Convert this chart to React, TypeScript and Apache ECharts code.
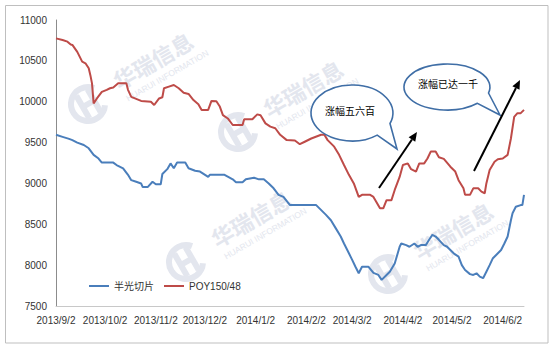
import React, { useEffect, useRef } from "react";
import * as echarts from "echarts";

// ---------------- data ----------------
const seriesNames = ["半光切片", "POY150/48"];

// x ticks: label text and day offset from 2013/9/2
const tickLabels = [
  "2013/9/2", "2013/10/2", "2013/11/2", "2013/12/2", "2014/1/2",
  "2014/2/2", "2014/3/2", "2014/4/2", "2014/5/2", "2014/6/2",
];
const tickDays = [0, 30, 61, 91, 122, 153, 181, 212, 242, 273];
const lastDay = 286;

// POY150/48 (red): day offsets and prices
const poyDays = [
  0, 4, 7, 9, 10, 13, 15, 16, 18, 20, 21, 22, 23, 25, 28, 31, 33, 35, 38, 43,
  44, 46, 49, 52, 58, 60, 63, 65, 66, 69, 72, 75, 78, 81, 84, 87, 89, 93, 95, 98,
  100, 102, 105, 108, 114, 115, 120, 123, 125, 128, 131, 134, 137, 141, 146, 149, 152, 156, 162, 164,
  166, 170, 173, 176, 179, 182, 185, 187, 192, 194, 198, 200, 202, 205, 207, 210, 212, 215, 217, 220,
  222, 225, 227, 229, 232, 234, 237, 241, 244, 246, 249, 250, 253, 255, 258, 260, 262, 263, 265, 268,
  270, 273, 276, 278, 280, 282, 284, 286,
];
const poyValues = [
  10775, 10755, 10735, 10700, 10695, 10610, 10530, 10490, 10470, 10410, 10325, 10225, 9980, 10040, 10120, 10145, 10165, 10175, 10225, 10225,
  10145, 10060, 10035, 10010, 10000, 9960, 10040, 10055, 10165, 10185, 10205, 10165, 10110, 10095, 10020, 9970, 9900, 9900, 10010, 10005,
  9945, 9835, 9795, 9715, 9715, 9785, 9785, 9845, 9835, 9735, 9695, 9675, 9595, 9530, 9525, 9480, 9510, 9550, 9595, 9595,
  9530, 9450, 9350, 9225, 9105, 9000, 8835, 8860, 8860, 8835, 8695, 8695, 8795, 8795, 8920, 9080, 9225, 9245, 9175, 9145,
  9245, 9245, 9305, 9390, 9390, 9320, 9300, 9205, 9145, 9040, 8940, 8860, 8860, 8940, 8940, 8900, 8880, 9000, 9165, 9265,
  9295, 9305, 9350, 9550, 9815, 9860, 9860, 9900,
];

// 半光切片 (blue): day offsets and prices
const semiDays = [
  0, 4, 8, 10, 13, 17, 20, 23, 26, 28, 35, 37, 41, 44, 46, 49, 52, 53, 56, 59,
  61, 64, 65, 68, 70, 72, 74, 79, 81, 85, 88, 93, 94, 103, 108, 110, 114, 116, 121, 124,
  127, 130, 133, 136, 139, 143, 159, 161, 165, 168, 171, 174, 176, 179, 181, 183, 185, 187, 191, 194,
  197, 199, 202, 204, 207, 210, 211, 214, 216, 219, 221, 223, 226, 228, 230, 232, 234, 237, 239, 241,
  243, 246, 248, 250, 253, 255, 257, 259, 261, 263, 265, 267, 269, 272, 274, 276, 278, 279, 281, 284,
  285, 286,
];
const semiValues = [
  9595, 9570, 9545, 9530, 9500, 9470, 9430, 9350, 9305, 9255, 9255, 9225, 9185, 9105, 9040, 9020, 9000, 8955, 8955, 9020,
  8990, 8990, 9115, 9175, 9245, 9185, 9255, 9255, 9185, 9155, 9145, 9080, 9105, 9105, 9050, 9015, 9015, 9050, 9070, 9050,
  9050, 9000, 8940, 8860, 8835, 8735, 8735, 8695, 8615, 8550, 8450, 8350, 8265, 8145, 8065, 7980, 7900, 7980, 7980, 7905,
  7880, 7820, 7880, 7920, 8020, 8225, 8265, 8245, 8225, 8265, 8225, 8245, 8245, 8310, 8370, 8350, 8310, 8245, 8225, 8185,
  8145, 8105, 8000, 7940, 7890, 7880, 7900, 7860, 7840, 7920, 8000, 8085, 8125, 8185, 8265, 8350, 8550, 8635, 8715, 8735,
  8735, 8860,
];

const bubbleTexts = ["涨幅五六百", "涨幅已达一千"];
const watermarkMain = "华瑞信息";
const watermarkSub = "HUARUI INFORMATION";

// ---------------- decoration geometry ----------------
const FONT = "'Liberation Sans', 'Noto Sans CJK SC', sans-serif";
const BLUE = "#4a7ebb";
const RED = "#be4b48";
const WM = "#e3e6ee";

function bubblePath(cx: number, cy: number, rx: number, ry: number, tx: number, ty: number, a1: number, a2: number) {
  const r1 = (a1 * Math.PI) / 180;
  const r2 = (a2 * Math.PI) / 180;
  const p1x = cx + rx * Math.cos(r1), p1y = cy + ry * Math.sin(r1);
  const p2x = cx + rx * Math.cos(r2), p2y = cy + ry * Math.sin(r2);
  return `M${p1x.toFixed(1)},${p1y.toFixed(1)} L${tx},${ty} L${p2x.toFixed(1)},${p2y.toFixed(1)} A${rx},${ry} 0 1 1 ${p1x.toFixed(1)},${p1y.toFixed(1)} Z`;
}

const b1 = { cx: 352, cy: 113, rx: 41, ry: 28, tx: 397, ty: 149 };
const b2 = { cx: 447, cy: 87, rx: 43, ry: 23, tx: 500, ty: 115 };

let registered = false;
function registerShapes() {
  if (registered) return;
  registered = true;
  echarts.graphic.registerShape(
    "bubbleOne",
    echarts.graphic.extendPath(bubblePath(b1.cx, b1.cy, b1.rx, b1.ry, b1.tx, b1.ty, 22, 52), {}) as any
  );
  echarts.graphic.registerShape(
    "bubbleTwo",
    echarts.graphic.extendPath(bubblePath(b2.cx, b2.cy, b2.rx, b2.ry, b2.tx, b2.ty, 15, 45), {}) as any
  );
}

function arrow(x1: number, y1: number, x2: number, y2: number) {
  const ang = Math.atan2(y2 - y1, x2 - x1);
  const len = 9, hw = 4;
  const bx = x2 - len * Math.cos(ang), by = y2 - len * Math.sin(ang);
  const nx = -Math.sin(ang), ny = Math.cos(ang);
  return [
    {
      type: "line", z: 20, silent: true,
      shape: { x1, y1, x2: bx, y2: by },
      style: { stroke: "#000", lineWidth: 2 },
    },
    {
      type: "polygon", z: 20, silent: true,
      shape: { points: [[x2, y2], [bx + nx * hw, by + ny * hw], [bx - nx * hw, by - ny * hw]] },
      style: { fill: "#000" },
    },
  ];
}

function watermark(x: number, y: number) {
  return {
    type: "group", x, y, rotation: Math.PI / 6, z: 1, silent: true,
    children: [
      { type: "arc", shape: { cx: 0, cy: 0, r: 17, startAngle: 0.6, endAngle: 5.6 }, style: { stroke: WM, lineWidth: 6, fill: "none" } },
      { type: "rect", shape: { x: -9, y: -13, width: 6, height: 26 }, style: { fill: WM } },
      { type: "rect", shape: { x: 4, y: -13, width: 6, height: 26 }, style: { fill: WM } },
      { type: "rect", shape: { x: -4, y: -3, width: 9, height: 6 }, style: { fill: WM } },
      {
        type: "text",
        style: { text: watermarkMain, x: 34, y: -6, fontSize: 22, fontWeight: "bold", fill: WM, fontFamily: "'Noto Sans CJK SC'", textVerticalAlign: "middle" },
      },
      {
        type: "text",
        style: { text: watermarkSub, x: 36, y: 15, fontSize: 8.5, fill: WM, fontFamily: "'Liberation Sans'", textVerticalAlign: "middle" },
      },
    ],
  };
}

export default function App() {
  const ref = useRef<HTMLDivElement>(null);

  useEffect(() => {
    if (!ref.current) return;
    registerShapes();
    const chart = echarts.init(ref.current, undefined, { renderer: "svg" });

    const semiData = semiDays.map((d, i) => [d, semiValues[i]]);
    const poyData = poyDays.map((d, i) => [d, poyValues[i]]);

    const option: any = {
      animation: false,
      backgroundColor: "#ffffff",
      textStyle: { fontFamily: FONT },
      grid: { left: 56, right: 28, top: 20, bottom: 45, containLabel: false },
      xAxis: {
        type: "value",
        min: 0,
        max: lastDay,
        axisLine: { show: true, lineStyle: { color: "#c8c8c8", width: 1 } },
        axisTick: { show: false },
        splitLine: { show: false },
        axisLabel: {
          customValues: tickDays,
          formatter: (v: number) => {
            const i = tickDays.indexOf(v);
            return i >= 0 ? tickLabels[i] : "";
          },
          fontSize: 10,
          color: "#333",
          margin: 9,
          fontFamily: FONT,
        },
      },
      yAxis: {
        type: "value",
        min: 7500,
        max: 11000,
        interval: 500,
        axisLine: { show: true, lineStyle: { color: "#8c8c8c", width: 1 } },
        axisTick: { show: false },
        splitLine: { show: false },
        axisLabel: {
          fontSize: 10, color: "#333", margin: 9, fontFamily: FONT,
          formatter: (v: number) => String(v),
        },
      },
      legend: {
        left: 84,
        top: 276,
        icon: "rect",
        itemWidth: 20,
        itemHeight: 2,
        itemGap: 10,
        textStyle: { fontSize: 10, color: "#333", fontFamily: FONT },
        data: seriesNames,
      },
      series: [
        {
          name: seriesNames[0], type: "line", data: semiData, showSymbol: false, symbol: "none",
          lineStyle: { color: BLUE, width: 2 }, itemStyle: { color: BLUE }, z: 5,
        },
        {
          name: seriesNames[1], type: "line", data: poyData, showSymbol: false, symbol: "none",
          lineStyle: { color: RED, width: 2 }, itemStyle: { color: RED }, z: 5,
        },
      ],
      graphic: [
        {
          type: "rect", z: 0, silent: true,
          shape: { x: 5.5, y: 5.5, width: 542.5, height: 337.5 },
          style: { fill: "none", stroke: "#bfbfbf", lineWidth: 1 },
        },
        watermark(88, 104),
        watermark(238, 132),
        watermark(186, 262),
        watermark(388, 274),
        { type: "bubbleOne", x: 0, y: 0, z: 20, silent: true, style: { fill: "#fff", stroke: "#3f6ea6", lineWidth: 1.6 } },
        { type: "bubbleTwo", x: 0, y: 0, z: 20, silent: true, style: { fill: "#fff", stroke: "#3f6ea6", lineWidth: 1.6 } },
        {
          type: "text", z: 21, silent: true, x: 350, y: 110,
          style: { text: bubbleTexts[0], fontSize: 10, fill: "#000", fontFamily: "'Noto Sans CJK SC'", align: "center", verticalAlign: "middle" },
        },
        {
          type: "text", z: 21, silent: true, x: 448, y: 83,
          style: { text: bubbleTexts[1], fontSize: 10, fill: "#000", fontFamily: "'Noto Sans CJK SC'", align: "center", verticalAlign: "middle" },
        },
        ...arrow(379, 188, 417, 132),
        ...arrow(474, 171, 520, 80),
      ],
    };

    chart.setOption(option);
    return () => chart.dispose();
  }, []);

  return (
    <div
      ref={ref}
      style={{ position: "fixed", left: 0, top: 0, width: 552, height: 351, background: "#fff" }}
    />
  );
}
